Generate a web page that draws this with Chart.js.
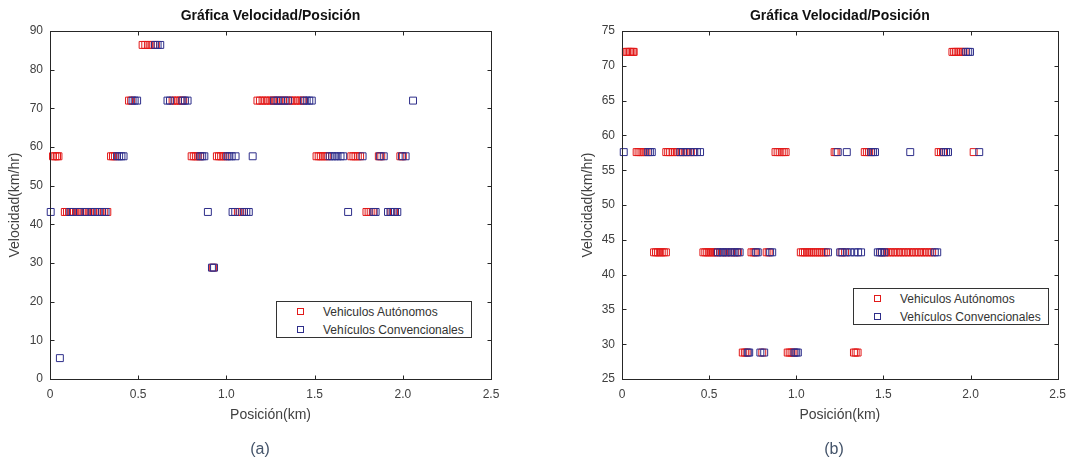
<!DOCTYPE html>
<html lang="es">
<head>
<meta charset="UTF-8">
<title>Gráfica Velocidad/Posición</title>
<script src="https://cdn.jsdelivr.net/npm/chart.js"></script>
<style>
    body { margin: 0; background: #fff; width: 1074px; height: 459px; position: relative; overflow: hidden;
           font-family: 'Liberation Sans', Arial, sans-serif; }
    .panel { position: absolute; top: 0; width: 537px; height: 459px; }
    .legend { position: absolute; width: 194px; height: 35px; border: 1px solid #333; background: #fff;
              font-size: 12px; color: #333; z-index: 2; }
    .legend .row { position: absolute; left: 0; right: 0; height: 16px; line-height: 16px; white-space: nowrap; }
    .legend .mark { position: absolute; left: 20px; top: 4px; width: 7px; height: 7px; box-sizing: border-box; }
    .legend .txt { position: absolute; left: 46px; top: 0; }
    .caption { position: absolute; top: 440px; font-size: 16px; color: #44546a; transform: translateX(-50%); }
</style>
</head>
<body>
    <div class="panel" id="panelA" style="left:0"><canvas id="chartA" width="537" height="459"></canvas></div>
    <div class="panel" id="panelB" style="left:537px"><canvas id="chartB" width="537" height="459"></canvas></div>
    <div class="caption" style="left:260px">(a)</div>
    <div class="caption" style="left:834px">(b)</div>

<script>
// series labels
const labels = ['Vehiculos Autónomos', 'Vehículos Convencionales'];
const colors = ['#e21a1a', '#2e2e8a'];

// panel (a): [velocidad km/hr, posiciones km]
const autoA = [
    [86.4, [0.525, 0.54, 0.555, 0.57, 0.585, 0.6]],
    [72, [0.448, 0.46, 0.695, 0.71, 0.725, 0.74, 0.755, 1.176, 1.19, 1.205, 1.22, 1.235, 1.25, 1.265, 1.28,
          1.3, 1.32, 1.34, 1.36, 1.375, 1.39, 1.405, 1.42, 1.435]],
    [57.6, [0.017, 0.03, 0.04, 0.048, 0.346, 0.357, 0.368, 0.803, 0.815, 0.827, 0.838, 0.85, 0.946, 0.958,
            0.97, 0.982, 0.995, 1.511, 1.523, 1.535, 1.547, 1.56, 1.572, 1.708, 1.72, 1.732, 1.745, 1.758,
            1.864, 1.878, 1.986, 2.0]],
    [43.2, [0.084, 0.096, 0.108, 0.12, 0.135, 0.15, 0.165, 0.18, 0.195, 0.21, 0.225, 0.245, 0.265, 0.285,
            0.305, 0.325, 1.065, 1.078, 1.09, 1.794, 1.806, 1.818, 1.83, 1.935, 1.95]],
    [28.8, [0.925]]
];
const convA = [
    [86.4, [0.595, 0.61, 0.625]],
    [72, [0.468, 0.48, 0.494, 0.666, 0.68, 0.75, 0.765, 0.78, 1.27, 1.29, 1.31, 1.33, 1.35, 1.44, 1.455,
          1.47, 1.484, 2.058]],
    [57.6, [0.38, 0.392, 0.405, 0.417, 0.852, 0.863, 0.875, 1.005, 1.017, 1.03, 1.052, 1.149, 1.585, 1.6,
            1.615, 1.63, 1.647, 1.662, 1.772, 1.87, 1.892, 1.995, 2.016]],
    [43.2, [0.004, 0.115, 0.13, 0.17, 0.2, 0.235, 0.255, 0.275, 0.295, 0.315, 0.895, 1.035, 1.05, 1.1,
            1.113, 1.127, 1.69, 1.835, 1.846, 1.916, 1.93, 1.943, 1.956, 1.969]],
    [28.8, [0.918, 0.93]],
    [5.4, [0.056]]
];

// panel (b)
const autoB = [
    [72, [0.022, 0.03, 0.038, 0.046, 0.054, 0.062, 0.067, 1.896, 1.906, 1.916, 1.926, 1.936, 1.946, 1.956, 1.966]],
    [57.6, [0.084, 0.095, 0.106, 0.117, 0.128, 0.14, 0.254, 0.265, 0.276, 0.29, 0.305, 0.32, 0.335, 0.35,
            0.365, 0.38, 0.395, 0.41, 0.881, 0.893, 0.905, 0.917, 0.928, 0.939, 1.22, 1.23, 1.393, 1.405,
            1.417, 1.428, 1.817, 1.83, 1.842, 2.018]],
    [43.2, [0.184, 0.195, 0.206, 0.217, 0.228, 0.24, 0.252, 0.467, 0.478, 0.489, 0.5, 0.511, 0.522, 0.533,
            0.545, 0.575, 0.6, 0.625, 0.65, 0.665, 0.743, 0.755, 0.765, 0.83, 0.842, 1.026, 1.038, 1.05,
            1.062, 1.074, 1.086, 1.098, 1.11, 1.122, 1.134, 1.146, 1.158, 1.17, 1.26, 1.28, 1.49, 1.51,
            1.525, 1.54, 1.555, 1.57, 1.585, 1.6, 1.615, 1.63, 1.645, 1.66, 1.675, 1.69, 1.705, 1.72,
            1.735, 1.75, 1.765, 1.78]],
    [28.8, [0.693, 0.705, 0.715, 0.805, 0.951, 0.962, 0.973, 0.984, 1.331, 1.341, 1.352]]
];
const convB = [
    [72, [1.975, 1.987, 1.997]],
    [57.6, [0.01, 0.15, 0.16, 0.171, 0.335, 0.35, 0.37, 0.39, 0.415, 0.43, 0.448, 1.238, 1.29, 1.43,
            1.441, 1.452, 1.654, 1.848, 1.86, 1.871, 2.05]],
    [43.2, [0.55, 0.565, 0.58, 0.595, 0.61, 0.63, 0.645, 0.66, 0.675, 0.77, 0.779, 0.85, 0.862, 1.182,
            1.252, 1.265, 1.29, 1.31, 1.335, 1.355, 1.372, 1.468, 1.48, 1.492, 1.505, 1.795, 1.809]],
    [28.8, [0.722, 0.73, 0.794, 0.816, 0.99, 1.0, 1.009]]
];

Chart.defaults.font.family = "'Liberation Sans', Arial, sans-serif";
Chart.defaults.color = '#404040';

function toPoints(rows) {
    return rows.flatMap(([y, xs]) => xs.map(x => ({ x: x, y: y })));
}

// matlab style box with inward ticks on all four sides
const boxPlugin = {
    id: 'matlabBox',
    afterDatasetsDraw(chart) {
        const { ctx, chartArea: a, scales: { x, y } } = chart;
        const L = Math.round(a.left) + 0.5, R = Math.round(a.right) + 0.5;
        const T = Math.round(a.top) + 0.5, B = Math.round(a.bottom) + 0.5;
        ctx.save();
        ctx.strokeStyle = '#262626';
        ctx.lineWidth = 1;
        ctx.strokeRect(L, T, R - L, B - T);
        ctx.beginPath();
        x.ticks.forEach(t => {
            const px = Math.round(x.getPixelForValue(t.value)) + 0.5;
            ctx.moveTo(px, B); ctx.lineTo(px, B - 4);
            ctx.moveTo(px, T); ctx.lineTo(px, T + 4);
        });
        y.ticks.forEach(t => {
            const py = Math.round(y.getPixelForValue(t.value)) + 0.5;
            ctx.moveTo(L, py); ctx.lineTo(L + 4, py);
            ctx.moveTo(R, py); ctx.lineTo(R - 4, py);
        });
        ctx.stroke();
        ctx.restore();
    }
};

const panels = [
    { id: 'chartA', panel: 'panelA', auto: autoA, conv: convA, yMin: 0, yMax: 90, yStep: 10, yWidth: 50,
      padRight: 46, yTitlePad: 6.6, legend: { left: 276, top: 301 } },
    { id: 'chartB', panel: 'panelB', auto: autoB, conv: convB, yMin: 25, yMax: 75, yStep: 5, yWidth: 85,
      padRight: 11, yTitlePad: 42.6, legend: { left: 853 - 537, top: 288 } }
];

panels.forEach(p => {
    const ctx = document.getElementById(p.id).getContext('2d');
    new Chart(ctx, {
        type: 'scatter',
        data: {
            datasets: [p.auto, p.conv].map((rows, i) => ({
                label: labels[i],
                data: toPoints(rows),
                pointStyle: 'rect',
                pointRadius: 4.9,
                pointHoverRadius: 4.9,
                pointBorderWidth: 1,
                borderColor: colors[i],
                backgroundColor: 'rgba(0,0,0,0)',
                clip: false,
                order: i === 0 ? 1 : 0
            }))
        },
        options: {
            responsive: false,
            animation: false,
            layout: { padding: { left: 0, right: p.padRight, top: 0, bottom: 0 } },
            plugins: {
                legend: { display: false },
                tooltip: { enabled: false },
                title: {
                    display: true,
                    fullSize: false,
                    text: 'Gráfica Velocidad/Posición',
                    color: '#111',
                    font: { size: 14, weight: 'bold' },
                    padding: { top: 8, bottom: 6.2 }
                }
            },
            scales: {
                x: {
                    type: 'linear', min: 0, max: 2.5,
                    afterFit: s => { s.height = 80; },
                    grid: { display: false, drawTicks: false },
                    border: { display: false },
                    ticks: { stepSize: 0.5, padding: 8, font: { size: 12 } },
                    title: { display: true, text: 'Posición(km)', font: { size: 14 },
                             padding: { top: 0, bottom: 35.6 } }
                },
                y: {
                    min: p.yMin, max: p.yMax,
                    afterFit: s => { s.width = p.yWidth; },
                    grid: { display: false, drawTicks: false },
                    border: { display: false },
                    ticks: { stepSize: p.yStep, padding: 7, font: { size: 12 } },
                    title: { display: true, text: 'Velocidad(km/hr)', font: { size: 14 },
                             padding: { top: p.yTitlePad, bottom: 0 } }
                }
            }
        },
        plugins: [boxPlugin]
    });

    // legend box inside the axes
    const box = document.createElement('div');
    box.className = 'legend';
    box.style.left = p.legend.left + 'px';
    box.style.top = p.legend.top + 'px';
    labels.forEach((name, i) => {
        const row = document.createElement('div');
        row.className = 'row';
        row.style.top = (2 + i * 17.5) + 'px';
        const mark = document.createElement('span');
        mark.className = 'mark';
        mark.style.border = '1px solid ' + colors[i];
        const txt = document.createElement('span');
        txt.className = 'txt';
        txt.textContent = name;
        row.appendChild(mark);
        row.appendChild(txt);
        box.appendChild(row);
    });
    document.getElementById(p.panel).appendChild(box);
});
</script>
</body>
</html>
